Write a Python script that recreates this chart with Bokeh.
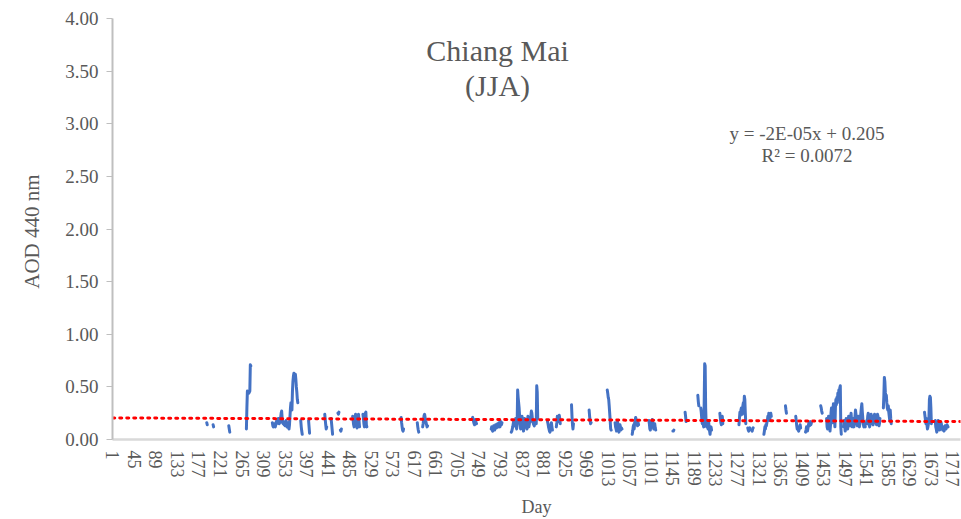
import math
from bokeh.plotting import figure
from bokeh.models import FixedTicker, Range1d, Label, NumeralTickFormatter
from bokeh.embed import file_html
from bokeh.resources import INLINE

# ---- data -------------------------------------------------------------
title_line1 = "Chiang Mai"
title_line2 = "(JJA)"
x_label = "Day"
y_label = "AOD 440  nm"
eq_text = "y = -2E-05x + 0.205"
r2_text = "R² = 0.0072"
trend_slope = -2e-05
trend_intercept = 0.205
n_days = 1732

x_tick_values = list(range(1, 1718, 44))
x_tick_labels = [str(v) for v in x_tick_values]
y_tick_values = [0.0, 0.5, 1.0, 1.5, 2.0, 2.5, 3.0, 3.5, 4.0]

seg_start = [193, 206, 238, 274, 327, 385, 401, 434, 447, 461, 466, 491, 512,
             590, 623, 634, 736, 774, 815, 889, 907, 938, 974, 1011, 1027,
             1062, 1096, 1145, 1170, 1196, 1202, 1241, 1280, 1298, 1306, 1331,
             1375, 1396, 1416, 1447, 1459, 1494, 1541, 1575, 1659, 1681]
seg_values = [
    [0.16, 0.14],
    [0.14, 0.12],
    [0.13, 0.10, 0.07],
    [0.10, 0.30, 0.46, 0.45, 0.44, 0.44, 0.45, 0.46, 0.71, 0.70],
    [0.16, 0.13, 0.12, 0.14, 0.15, 0.13, 0.12, 0.14, 0.17, 0.15, 0.16, 0.19,
     0.20, 0.17, 0.15, 0.18, 0.16, 0.21, 0.25, 0.27, 0.20, 0.16, 0.15, 0.17,
     0.14, 0.16, 0.13, 0.15, 0.18, 0.14, 0.12, 0.16, 0.13, 0.11, 0.10, 0.14,
     0.22, 0.30, 0.35, 0.34, 0.28, 0.45, 0.55, 0.60, 0.63, 0.61, 0.59, 0.62,
     0.57, 0.50, 0.45, 0.38, 0.35],
    [0.18, 0.12, 0.08, 0.05],
    [0.18, 0.12, 0.06],
    [0.24, 0.19, 0.14, 0.10, 0.12],
    [0.20, 0.15, 0.10, 0.05],
    [0.25, 0.24, 0.26],
    [0.09, 0.08, 0.10],
    [0.22, 0.18, 0.14, 0.12, 0.15, 0.20, 0.24, 0.22, 0.13, 0.11, 0.16, 0.23,
     0.24, 0.18, 0.12],
    [0.24, 0.20, 0.15, 0.12, 0.18, 0.25, 0.26, 0.14, 0.12],
    [0.21, 0.16, 0.12, 0.09, 0.08, 0.10],
    [0.16, 0.12, 0.09, 0.07],
    [0.12, 0.15, 0.19, 0.23, 0.24, 0.21, 0.18, 0.16, 0.14, 0.12, 0.13],
    [0.21, 0.19, 0.17, 0.15, 0.14, 0.17, 0.19, 0.16, 0.15],
    [0.10, 0.12, 0.09, 0.08, 0.11, 0.13, 0.10, 0.09, 0.12, 0.14, 0.12, 0.11,
     0.13, 0.15, 0.14, 0.12, 0.16, 0.14, 0.12, 0.15, 0.17, 0.14, 0.16],
    [0.07, 0.08, 0.10, 0.12, 0.15, 0.18, 0.16, 0.14, 0.13, 0.20, 0.12, 0.10,
     0.15, 0.47, 0.40, 0.35, 0.30, 0.22, 0.15, 0.10, 0.12, 0.18, 0.22, 0.14,
     0.10, 0.08, 0.13, 0.20, 0.16, 0.12, 0.14, 0.12, 0.10, 0.18, 0.22, 0.16,
     0.12, 0.15, 0.20, 0.17, 0.22, 0.27, 0.25, 0.20, 0.18, 0.15, 0.14, 0.13,
     0.16, 0.17, 0.18, 0.15, 0.51, 0.45, 0.20],
    [0.17, 0.15, 0.12, 0.10, 0.08, 0.07, 0.10, 0.13, 0.16, 0.12, 0.09],
    [0.12, 0.16, 0.22, 0.19, 0.17, 0.21, 0.23, 0.20, 0.15],
    [0.33, 0.22, 0.14, 0.10, 0.15],
    [0.28, 0.22, 0.18, 0.15, 0.16],
    [0.47, 0.44, 0.40, 0.38, 0.32, 0.25, 0.18, 0.10, 0.09],
    [0.16, 0.12, 0.10, 0.08, 0.13, 0.17, 0.14, 0.09, 0.07, 0.10, 0.14, 0.12,
     0.09, 0.11, 0.10],
    [0.05, 0.08, 0.12, 0.14, 0.10, 0.16, 0.18, 0.21, 0.19, 0.17, 0.15, 0.13,
     0.16, 0.14],
    [0.18, 0.15, 0.10, 0.09, 0.12, 0.14, 0.17, 0.19, 0.16, 0.12, 0.10, 0.13,
     0.15, 0.11, 0.09],
    [0.08, 0.08, 0.09],
    [0.26, 0.22, 0.17],
    [0.42, 0.36, 0.32],
    [0.30, 0.26, 0.20, 0.15, 0.22, 0.14, 0.12, 0.35, 0.72, 0.70, 0.30, 0.15,
     0.12, 0.18, 0.14, 0.10, 0.17, 0.12, 0.08, 0.05, 0.10, 0.12, 0.09],
    [0.25, 0.20, 0.16, 0.14, 0.18, 0.22, 0.15],
    [0.14, 0.20, 0.26, 0.23, 0.28, 0.30, 0.27, 0.24, 0.32, 0.35, 0.30, 0.41,
     0.38, 0.25, 0.15],
    [0.11, 0.09, 0.08, 0.10, 0.11],
    [0.09, 0.08, 0.10, 0.11],
    [0.05, 0.08, 0.12, 0.10, 0.14, 0.13, 0.16, 0.18, 0.22, 0.20, 0.25, 0.21,
     0.18, 0.24, 0.25, 0.22],
    [0.32, 0.28, 0.25],
    [0.22, 0.18, 0.13, 0.10, 0.12, 0.09, 0.08, 0.10, 0.12, 0.14, 0.11],
    [0.07, 0.09, 0.12, 0.10, 0.08, 0.11, 0.14, 0.16, 0.13, 0.15, 0.17, 0.14,
     0.16],
    [0.32, 0.30, 0.27, 0.25],
    [0.20, 0.12, 0.10, 0.15, 0.22, 0.18, 0.12, 0.08, 0.14, 0.25, 0.30, 0.22,
     0.16, 0.28, 0.34, 0.27, 0.20, 0.12, 0.30, 0.38, 0.33, 0.40, 0.35, 0.44,
     0.38, 0.47, 0.42, 0.49, 0.51, 0.12, 0.05],
    [0.12, 0.18, 0.14, 0.08, 0.15, 0.20, 0.16, 0.12, 0.10, 0.14, 0.22, 0.18,
     0.13, 0.16, 0.20, 0.25, 0.18, 0.12, 0.15, 0.20, 0.14, 0.12, 0.17, 0.22,
     0.28, 0.24, 0.19, 0.15, 0.13, 0.18, 0.22, 0.16, 0.12, 0.15, 0.20, 0.25,
     0.30, 0.34, 0.26, 0.20, 0.15, 0.12, 0.16, 0.14, 0.12],
    [0.18, 0.15, 0.22, 0.25, 0.18, 0.14, 0.12, 0.16, 0.20, 0.24, 0.22, 0.18,
     0.15, 0.14, 0.17, 0.20, 0.24, 0.22, 0.19, 0.16, 0.14, 0.18, 0.24, 0.22,
     0.16, 0.13, 0.15, 0.20],
    [0.30, 0.42, 0.59, 0.55, 0.45, 0.40, 0.42, 0.35, 0.30, 0.28, 0.32, 0.26,
     0.22, 0.18, 0.28, 0.20, 0.15],
    [0.26, 0.22, 0.18, 0.15, 0.20, 0.14, 0.10, 0.12, 0.15, 0.20, 0.38, 0.41,
     0.40, 0.30, 0.15],
    [0.18, 0.12, 0.10, 0.07, 0.09, 0.14, 0.18, 0.16, 0.12, 0.09, 0.11, 0.14,
     0.16, 0.13, 0.11, 0.09, 0.12, 0.10, 0.08, 0.11, 0.13, 0.12, 0.10, 0.12,
     0.14, 0.13, 0.12],
]

# ---- build series with gaps ------------------------------------------
xs, ys = [], []
for start, vals in zip(seg_start, seg_values):
    for i, v in enumerate(vals):
        xs.append(start + i)
        ys.append(v)
    xs.append(start + len(vals))
    ys.append(float("nan"))

trend_x = [1, n_days]
trend_y = [trend_intercept + trend_slope * d for d in trend_x]

FONT = "Liberation Serif"
TXT = "#595959"

p = figure(width=961, height=519, output_backend="svg", toolbar_location=None,
           x_range=Range1d(0.5, n_days + 0.5), y_range=Range1d(0, 4),
           min_border_left=112, min_border_top=18, min_border_right=1,
           min_border_bottom=80)
p.outline_line_color = None
p.xgrid.visible = False
p.ygrid.visible = False
p.background_fill_color = "white"
p.border_fill_color = "white"

p.line(xs, ys, line_color="#4472C4", line_width=3, line_join="round",
       line_cap="round")
p.line(trend_x, trend_y, line_color="#FF0000", line_width=3,
       line_dash="2 5", line_cap="round")

# axes
xa = p.xaxis[0]
xa.ticker = FixedTicker(ticks=x_tick_values)
xa.major_label_overrides = {v: s for v, s in zip(x_tick_values, x_tick_labels)}
xa.major_label_orientation = "vertical"
xa.major_tick_out = 0
xa.major_tick_in = 0
xa.minor_tick_out = 0
xa.minor_tick_in = 0
xa.axis_line_color = "#d9d9d9"
xa.axis_line_width = 2.5
xa.major_label_text_font = FONT
xa.major_label_text_font_size = "18px"
xa.major_label_text_color = TXT
xa.major_label_standoff = 11
xa.axis_label = x_label
xa.axis_label_text_font = FONT
xa.axis_label_text_font_size = "18px"
xa.axis_label_text_font_style = "normal"
xa.axis_label_text_color = TXT
xa.axis_label_standoff = 7

ya = p.yaxis[0]
ya.ticker = FixedTicker(ticks=y_tick_values)
ya.formatter = NumeralTickFormatter(format="0.00")
ya.major_tick_out = 6
ya.major_tick_in = 0
ya.minor_tick_out = 0
ya.minor_tick_in = 0
ya.major_tick_line_color = "#bfbfbf"
ya.axis_line_color = "#bfbfbf"
ya.axis_line_width = 2
ya.major_label_text_font = FONT
ya.major_label_text_font_size = "19px"
ya.major_label_text_color = TXT
ya.major_label_standoff = 8
ya.axis_label = y_label
ya.axis_label_text_font = FONT
ya.axis_label_text_font_size = "21px"
ya.axis_label_text_font_style = "normal"
ya.axis_label_text_color = TXT
ya.axis_label_standoff = 18

# annotations
for txt, xv, yv, size in [(title_line1, 787, 3.70, "30px"),
                          (title_line2, 787, 3.36, "30px"),
                          (eq_text, 1419, 2.91, "19px"),
                          (r2_text, 1419, 2.70, "19px")]:
    p.add_layout(Label(x=xv, y=yv, text=txt, text_align="center",
                       text_baseline="middle", text_font=FONT,
                       text_font_size=size, text_color=TXT))

open("out.html", "w").write(file_html(p, INLINE))
